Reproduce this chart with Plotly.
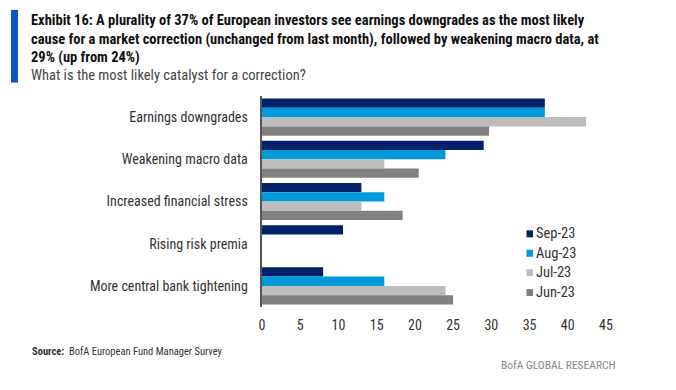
import plotly.graph_objects as go

categories = ["Earnings downgrades", "Weakening macro data", "Increased financial stress",
              "Rising risk premia", "More central bank tightening"]
series_names = ["Sep-23", "Aug-23", "Jul-23", "Jun-23"]
sep23 = [37, 29, 13, 10.6, 8]
aug23 = [37, 24, 16, 0, 16]
jul23 = [42.4, 16, 13, 0, 24]
jun23 = [29.7, 20.5, 18.4, 0, 25]
colors = ["#012169", "#009ADB", "#BDBDBD", "#808080"]
x_ticks = [0, 5, 10, 15, 20, 25, 30, 35, 40, 45]

FONT = "Roboto Condensed, Roboto, sans-serif"

# page has an 8px body margin; work in screen pixels and convert
OFF = 8
W, H = 676, 390
L_S, R_S, T_S, B_S = 262, 606, 95.5, 307.5   # plot area in screen px
ml = L_S - OFF
mr = W - (R_S - OFF)
mt = T_S - OFF
mb = H - (B_S - OFF)
plot_w = R_S - L_S
plot_h = B_S - T_S

def px(xs):
    return (xs - L_S) / plot_w

def py(ys):
    return (B_S - ys) / plot_h

fig = go.Figure()
for name, vals, col in zip(series_names, [sep23, aug23, jul23, jun23], colors):
    fig.add_trace(go.Bar(y=categories, x=vals, name=name, orientation="h",
                         marker=dict(color=col, line=dict(width=0))))

fig.update_layout(
    width=W, height=H,
    margin=dict(l=ml, r=mr, t=mt, b=mb, autoexpand=False),
    paper_bgcolor="white", plot_bgcolor="white",
    barmode="group", bargap=0.12, bargroupgap=0,
    font=dict(family=FONT, size=13, color="#333333"),
    showlegend=False,
    xaxis=dict(range=[0, 45], tickvals=x_ticks, showgrid=False, zeroline=False,
               showline=False, ticks="", ticklen=0, ticklabelstandoff=8,
               tickfont=dict(size=14, color="#333333"), automargin=False),
    yaxis=dict(autorange="reversed", showgrid=False, showline=True, linecolor="#555555",
               linewidth=1.5, ticks="", ticksuffix="   ", tickfont=dict(size=14, color="#333333"),
               automargin=False),
)

title_lines = ["Exhibit 16: A plurality of 37% of European investors see earnings downgrades as the most likely",
               "cause for a market correction (unchanged from last month), followed by weakening macro data, at",
               "29% (up from 24%)"]
anns = []
for i, t in enumerate(title_lines):
    anns.append(dict(text=f"<b>{t}</b>", xref="paper", yref="paper", x=px(29), y=py(20 + 18.5 * i),
                     xanchor="left", yanchor="middle", showarrow=False,
                     font=dict(family=FONT, size=14.5, color="#111111")))
anns.append(dict(text="What is the most likely catalyst for a correction?", xref="paper", yref="paper",
                 x=px(29), y=py(75), xanchor="left", yanchor="middle", showarrow=False,
                 font=dict(family=FONT, size=14.5, color="#444444")))
anns.append(dict(text="<b>Source:</b>  BofA European Fund Manager Survey", xref="paper", yref="paper",
                 x=px(30), y=py(352), xanchor="left", yanchor="middle", showarrow=False,
                 font=dict(family=FONT, size=10.5, color="#333333")))
anns.append(dict(text="BofA GLOBAL RESEARCH", xref="paper", yref="paper",
                 x=px(618), y=py(366), xanchor="right", yanchor="middle", showarrow=False,
                 font=dict(family=FONT, size=11.5, color="#888888")))

# legend drawn as squares + labels
leg_y = [234, 253.5, 273, 293]
shapes = [dict(type="rect", xref="paper", yref="paper", x0=px(11), x1=px(18), y0=py(9), y1=py(82),
               fillcolor="#0A56C2", line=dict(width=0))]
for name, col, yy in zip(series_names, colors, leg_y):
    shapes.append(dict(type="rect", xref="paper", yref="paper", x0=px(526.5), x1=px(533),
                       y0=py(yy - 3.5), y1=py(yy + 3.5), fillcolor=col, line=dict(width=0)))
    anns.append(dict(text=name, xref="paper", yref="paper", x=px(533.5), y=py(yy),
                     xanchor="left", yanchor="middle", showarrow=False,
                     font=dict(family=FONT, size=14.5, color="#333333")))

fig.layout.annotations = anns
fig.layout.shapes = shapes

fig.write_html("out.html")
